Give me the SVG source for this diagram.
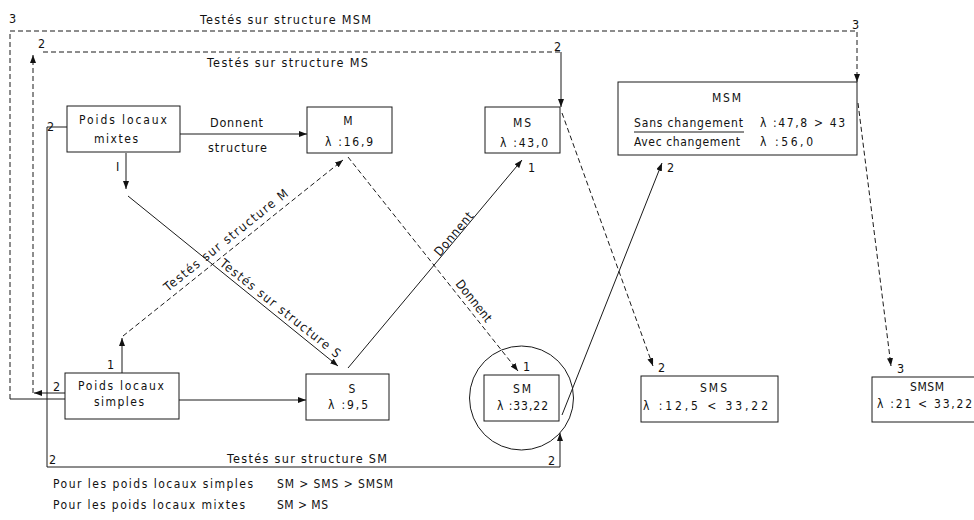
<svg xmlns="http://www.w3.org/2000/svg" width="974" height="520" viewBox="0 0 974 520">
<defs>
<marker id="ah" viewBox="0 0 8 6" refX="8" refY="3" markerWidth="8" markerHeight="6" markerUnits="userSpaceOnUse" orient="auto">
<path d="M0,0 L8,3 L0,6 z" fill="#111"/>
</marker>
<style>
.ln{stroke:#1a1a1a;stroke-width:1;fill:none}
.d{stroke-dasharray:5 3}
.a{marker-end:url(#ah)}
.box{fill:#fff;stroke:#1a1a1a;stroke-width:1}
text{font-family:"Liberation Sans Narrow","DejaVu Sans Condensed","Liberation Sans",sans-serif;font-size:12.5px;fill:#111}
.m{text-anchor:middle}
.sm{font-size:12px}
</style>
</defs>
<rect width="974" height="520" fill="#fff"/>

<g id="connectors">
<!-- MSM loop -->
<path class="ln" d="M65,399 H10"/>
<path class="ln d a" d="M10,399 V31 H857 V82"/>
<text x="9" y="23">3</text>
<text x="852" y="29">3</text>
<text x="200" y="24" textLength="171" lengthAdjust="spacing">Testés sur structure MSM</text>
<!-- MS loop -->
<path class="ln a" d="M65,393 H34"/>
<path class="ln d a" d="M33,393 V55"/>
<path class="ln d" d="M43,52 H561"/>
<path class="ln a" d="M561,52 V107"/>
<text x="53" y="391">2</text>
<text x="38" y="48">2</text>
<text x="554" y="51">2</text>
<text x="207" y="67" textLength="161" lengthAdjust="spacing">Testés sur structure MS</text>
<!-- SM loop -->
<path class="ln a" d="M67,127 H47 V467 H560 V433"/>
<text x="47" y="131">2</text>
<text x="49" y="464">2</text>
<text x="548" y="465">2</text>
<text x="227" y="463" textLength="160" lengthAdjust="spacing">Testés sur structure SM</text>
<!-- Donnent structure -->
<path class="ln a" d="M180,134 H307"/>
<text x="210" y="127" textLength="53" lengthAdjust="spacing">Donnent</text>
<text x="208" y="152" textLength="59" lengthAdjust="spacing">structure</text>
<!-- simples -> S -->
<path class="ln a" d="M179,400 H306"/>
<!-- mixtes -> S -->
<path class="ln a" d="M126,153 V189"/>
<text x="116" y="171">I</text>
<path class="ln a" d="M128,196 L338,366"/>
<text transform="translate(219,265) rotate(38.5)" textLength="150" lengthAdjust="spacing">Testés sur structure S</text>
<!-- simples -> M -->
<path class="ln a" d="M122,373 V338"/>
<text x="107" y="369">1</text>
<path class="ln d a" d="M123,336 L343,160"/>
<text transform="translate(168,292) rotate(-38.7)" textLength="155" lengthAdjust="spacing">Testés sur structure M</text>
<!-- M -> SM -->
<path class="ln d a" d="M348,157 L518,371"/>
<text transform="translate(455,284) rotate(51.5)" textLength="50" lengthAdjust="spacing">Donnent</text>
<text x="523" y="371">1</text>
<!-- S -> MS -->
<path class="ln a" d="M348,368 L522,160"/>
<text transform="translate(440,257) rotate(-50.1)" textLength="53" lengthAdjust="spacing">Donnent</text>
<text x="528" y="172">1</text>
<!-- SM -> MSM -->
<path class="ln a" d="M562,415 L662,163"/>
<text x="667" y="172">2</text>
<!-- MS -> SMS -->
<path class="ln d a" d="M562,113 L653,366"/>
<text x="658" y="372">2</text>
<!-- MSM -> SMSM -->
<path class="ln d a" d="M858,103 L891,366"/>
<text x="897" y="373">3</text>
</g>

<g id="n-plm">
<rect class="box" x="67" y="106" width="113" height="46"/>
<text class="sm" x="79" y="124" textLength="88" lengthAdjust="spacing">Poids locaux</text>
<text class="sm" x="94" y="143" textLength="44" lengthAdjust="spacing">mixtes</text>
</g>
<g id="n-m">
<rect class="box" x="307" y="107" width="85" height="46"/>
<text class="sm m" x="348" y="125">M</text>
<text class="sm" x="325" y="146" textLength="48" lengthAdjust="spacing">λ :16,9</text>
</g>
<g id="n-ms">
<rect class="box" x="485" y="107" width="75" height="46"/>
<text class="sm" x="513" y="127" textLength="18" lengthAdjust="spacing">MS</text>
<text class="sm" x="500" y="147" textLength="48" lengthAdjust="spacing">λ :43,0</text>
</g>
<g id="n-msm">
<rect class="box" x="618" y="82" width="239" height="73"/>
<text class="sm" x="712" y="102" textLength="29" lengthAdjust="spacing">MSM</text>
<text class="sm" x="634" y="127" textLength="109" lengthAdjust="spacing">Sans changement</text>
<line class="ln" x1="634" y1="132" x2="744" y2="132"/>
<text class="sm" x="760" y="127" textLength="85" lengthAdjust="spacing">λ :47,8 &gt; 43</text>
<text class="sm" x="634" y="146" textLength="106" lengthAdjust="spacing">Avec changement</text>
<text class="sm" x="760" y="146" textLength="53" lengthAdjust="spacing">λ :56,0</text>
</g>
<g id="n-pls">
<rect class="box" x="65" y="373" width="114" height="46"/>
<text class="sm" x="78" y="390" textLength="86" lengthAdjust="spacing">Poids locaux</text>
<text class="sm" x="94" y="406" textLength="50" lengthAdjust="spacing">simples</text>
</g>
<g id="n-s">
<rect class="box" x="306" y="374" width="83" height="46"/>
<text class="sm m" x="352" y="393">S</text>
<text class="sm" x="328" y="409" textLength="40" lengthAdjust="spacing">λ :9,5</text>
</g>
<g id="n-sm">
<circle class="ln" cx="521.5" cy="398" r="52"/>
<rect class="box" x="484" y="375" width="75" height="46"/>
<text class="sm" x="513" y="393" textLength="18" lengthAdjust="spacing">SM</text>
<text class="sm" x="497" y="410" textLength="51" lengthAdjust="spacing">λ :33,22</text>
</g>
<g id="n-sms">
<rect class="box" x="641" y="376" width="137" height="46"/>
<text class="sm" x="700" y="392" textLength="27" lengthAdjust="spacing">SMS</text>
<text class="sm" x="643" y="410" textLength="125" lengthAdjust="spacing">λ :12,5 &lt; 33,22</text>
</g>
<g id="n-smsm">
<rect class="box" x="872" y="377" width="110" height="45"/>
<text class="sm" x="910" y="391" textLength="34" lengthAdjust="spacing">SMSM</text>
<text class="sm" x="877" y="408" textLength="95" lengthAdjust="spacing">λ :21 &lt; 33,22</text>
</g>

<g id="notes">
<text class="sm" x="53" y="488" textLength="200" lengthAdjust="spacing">Pour les poids locaux simples</text>
<text class="sm" x="277" y="488" textLength="116" lengthAdjust="spacing">SM &gt; SMS &gt; SMSM</text>
<text class="sm" x="53" y="509" textLength="192" lengthAdjust="spacing">Pour les poids locaux mixtes</text>
<text class="sm" x="277" y="509" textLength="51" lengthAdjust="spacing">SM &gt; MS</text>
</g>
</svg>
